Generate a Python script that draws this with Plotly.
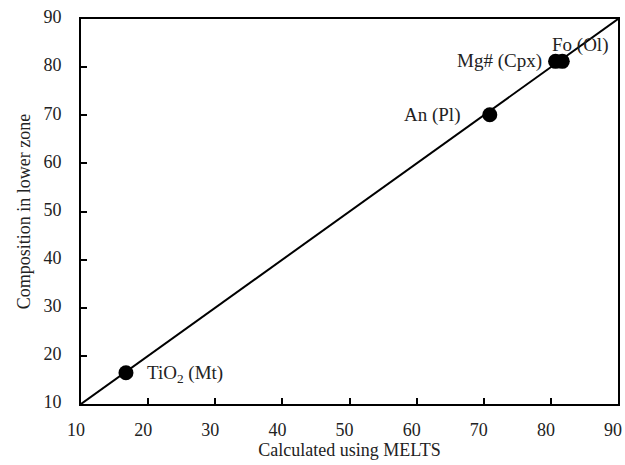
import plotly.graph_objects as go

# Mineral compositions: MELTS prediction vs. observed lower-zone values
labels = ["TiO<sub>2</sub> (Mt)", "An (Pl)", "Mg# (Cpx)", "Fo (Ol)"]
melts = [16.7, 70.9, 80.7, 81.7]
lower_zone = [16.5, 70.1, 81.2, 81.2]

# label placement relative to each point (anchor, x shift, y shift in px)
label_anchor = ["left", "right", "right", "left"]
label_dx = [19, -28, -12, -12]
label_dy = [-1, 0, 0, 16]

# 1:1 reference line
one_to_one = [10, 90]

serif = "Liberation Serif"
ink = "#222"

fig = go.Figure()
fig.add_trace(go.Scatter(
    x=one_to_one, y=one_to_one, mode="lines",
    line=dict(color="black", width=2), hoverinfo="skip", showlegend=False,
))
fig.add_trace(go.Scatter(
    x=melts, y=lower_zone, mode="markers",
    marker=dict(color="black", size=15),
    showlegend=False, cliponaxis=False,
))

for lab, xv, yv, anc, dx, dy in zip(labels, melts, lower_zone, label_anchor, label_dx, label_dy):
    fig.add_annotation(
        x=xv, y=yv, text=lab, showarrow=False,
        xanchor=anc, yanchor="middle", xshift=dx, yshift=dy,
        font=dict(family=serif, size=19, color=ink),
    )

axis_common = dict(
    range=[10, 90], dtick=10, tick0=10,
    ticks="inside", ticklen=6, tickwidth=1.5, tickcolor="black",
    showline=True, linecolor="black", linewidth=2, mirror=True,
    showgrid=False, zeroline=False, automargin=False,
    ticklabeloverflow="allow",
    tickfont=dict(family=serif, size=18, color=ink),
)

fig.update_layout(
    width=625, height=465,
    margin=dict(l=81, r=7, t=19, b=61),
    paper_bgcolor="white", plot_bgcolor="white",
    xaxis=dict(**axis_common, ticklabelstandoff=8, ticklabelshift=-5,
               title=dict(text="Calculated using MELTS",
                          font=dict(family=serif, size=18, color=ink), standoff=4)),
    yaxis=dict(**axis_common, ticklabelstandoff=14, ticklabelshift=-2,
               title=dict(text="Composition in lower zone",
                          font=dict(family=serif, size=18, color=ink), standoff=8)),
)

fig.write_html("out.html")
